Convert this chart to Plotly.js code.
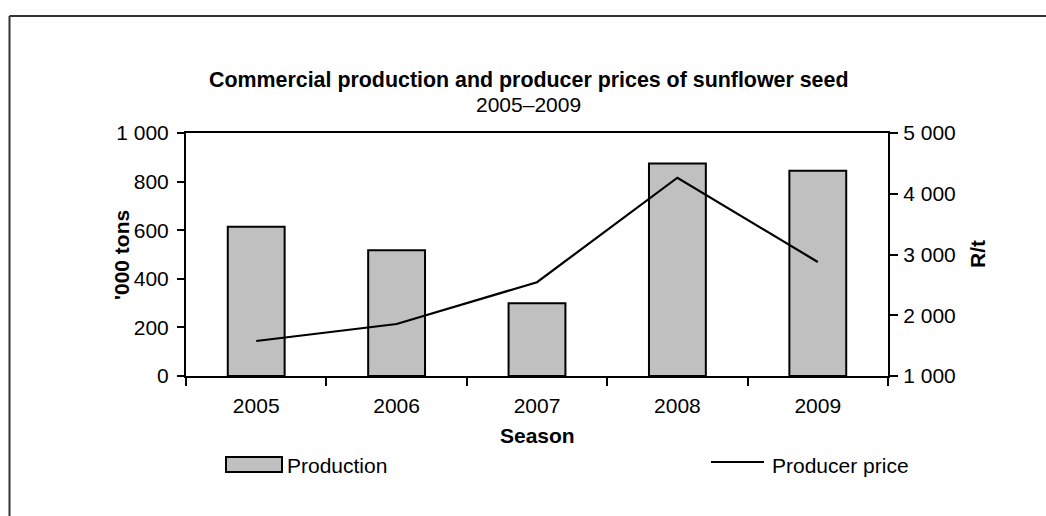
<!DOCTYPE html>
<html>
<head>
<meta charset="utf-8">
<script src="https://cdn.plot.ly/plotly-3.0.1.min.js"></script>
<style>
  html, body { margin: 0; padding: 0; background: #fff; }
  #chart { width: 1046px; height: 516px; }
</style>
</head>
<body>
<div id="chart"></div>
<script>
// ---- Data ----
const seasons = ["2005", "2006", "2007", "2008", "2009"];
const production = [614, 518, 299, 875, 845];      // '000 tons
const producerPrice = [1576, 1856, 2544, 4264, 2877]; // R/t

const titleText = "Commercial production and producer prices of sunflower seed";
const subtitleText = "2005–2009";
const yLeftTitle = "'000 tons";
const yRightTitle = "R/t";
const xTitle = "Season";
const legendNames = ["Production", "Producer price"];

// ---- Layout geometry (pixels) ----
const W = 1046, H = 516;
const L = 186, R = 888, T = 133, B = 376;
const pw = R - L, ph = B - T;
const px = x => (x - L) / pw;
const py = y => (B - y) / ph;

const FONT = "Liberation Sans, Arial, sans-serif";
const FS = 21;

const traces = [
  {
    type: "bar",
    name: legendNames[0],
    x: seasons,
    y: production,
    marker: { color: "#c0c0c0", line: { color: "#000", width: 2 } },
    yaxis: "y",
    showlegend: false
  },
  {
    type: "scatter",
    mode: "lines",
    name: legendNames[1],
    x: seasons,
    y: producerPrice,
    line: { color: "#000", width: 2.2 },
    yaxis: "y2",
    showlegend: false
  }
];

const layout = {
  width: W, height: H,
  margin: { l: L, r: W - R, t: T, b: H - B, pad: 0 },
  paper_bgcolor: "#fff",
  plot_bgcolor: "#fff",
  font: { family: FONT, size: FS, color: "#000" },
  separators: ". ",
  bargap: 0.595,
  showlegend: false,
  xaxis: {
    type: "category",
    showline: true, linecolor: "#000", linewidth: 2, mirror: true,
    ticks: "outside", ticklen: 8, tickwidth: 2, tickcolor: "#000",
    tickson: "boundaries",
    showgrid: false, zeroline: false,
    ticklabelstandoff: 10,
    tickfont: { family: FONT, size: FS, color: "#000" }
  },
  yaxis: {
    range: [0, 1000], dtick: 200, tick0: 0,
    showline: true, linecolor: "#000", linewidth: 2, mirror: false,
    ticks: "outside", ticklen: 7, tickwidth: 2, tickcolor: "#000",
    showgrid: false, zeroline: false,
    separatethousands: true,
    ticklabelstandoff: 4,
    tickfont: { family: FONT, size: FS, color: "#000" }
  },
  yaxis2: {
    range: [1000, 5000], dtick: 1000, tick0: 1000,
    overlaying: "y", side: "right",
    showline: true, linecolor: "#000", linewidth: 2,
    ticks: "outside", ticklen: 8, tickwidth: 2, tickcolor: "#000",
    showgrid: false, zeroline: false,
    separatethousands: true,
    ticklabelstandoff: 1,
    tickfont: { family: FONT, size: FS, color: "#000" }
  },
  shapes: [
    // outer frame (top and left edges)
    { type: "line", xref: "paper", yref: "paper", x0: px(9.5), x1: px(W + 5), y0: py(16), y1: py(16), line: { color: "#333", width: 2 } },
    { type: "line", xref: "paper", yref: "paper", x0: px(9.5), x1: px(9.5), y0: py(16), y1: py(H + 5), line: { color: "#333", width: 2 } },
    // legend symbols
    { type: "rect", xref: "paper", yref: "paper", x0: px(226), x1: px(282), y0: py(457), y1: py(472), fillcolor: "#c0c0c0", line: { color: "#000", width: 2 } },
    { type: "line", xref: "paper", yref: "paper", x0: px(711), x1: px(764), y0: py(462), y1: py(462), line: { color: "#000", width: 2 } }
  ],
  annotations: [
    { text: "<b>" + titleText + "</b>", xref: "paper", yref: "paper", x: px(528), y: py(80), xanchor: "center", yanchor: "middle", showarrow: false, font: { family: FONT, size: 21.4, color: "#000" } },
    { text: subtitleText, xref: "paper", yref: "paper", x: px(528), y: py(104), xanchor: "center", yanchor: "middle", showarrow: false, font: { family: FONT, size: FS, color: "#000" } },
    { text: "<b>" + yLeftTitle + "</b>", xref: "paper", yref: "paper", x: px(121), y: py(255), xanchor: "center", yanchor: "middle", textangle: -90, showarrow: false, font: { family: FONT, size: FS, color: "#000" } },
    { text: "<b>" + yRightTitle + "</b>", xref: "paper", yref: "paper", x: px(977), y: py(254), xanchor: "center", yanchor: "middle", textangle: -90, showarrow: false, font: { family: FONT, size: FS, color: "#000" } },
    { text: "<b>" + xTitle + "</b>", xref: "paper", yref: "paper", x: px(537), y: py(435), xanchor: "center", yanchor: "middle", showarrow: false, font: { family: FONT, size: FS, color: "#000" } },
    { text: legendNames[0], xref: "paper", yref: "paper", x: px(285), y: py(465), xanchor: "left", yanchor: "middle", showarrow: false, font: { family: FONT, size: FS, color: "#000" } },
    { text: legendNames[1], xref: "paper", yref: "paper", x: px(770), y: py(465), xanchor: "left", yanchor: "middle", showarrow: false, font: { family: FONT, size: FS, color: "#000" } }
  ]
};

Plotly.newPlot("chart", traces, layout, { staticPlot: true, displayModeBar: false });
</script>
</body>
</html>
